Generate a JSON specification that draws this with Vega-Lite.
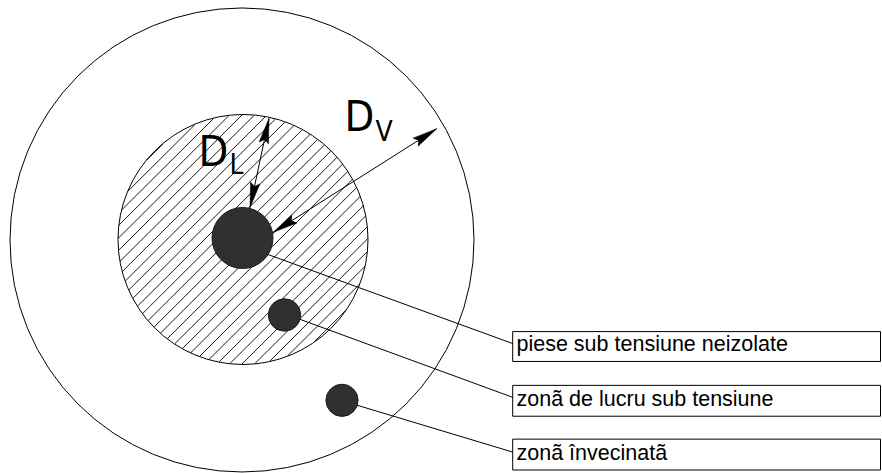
{
  "$schema": "https://vega.github.io/schema/vega-lite/v6.json",
  "width": 882,
  "height": 473,
  "autosize": {"type": "fit", "contains": "padding"},
  "padding": 0,
  "background": "white",
  "config": {"view": {"stroke": null}},
  "datasets": {
    "hatch": [
      {"x": 146.72, "y": 160.78, "x2": 163.28, "y2": 144.22},
      {"x": 127.64, "y": 192.36, "x2": 194.86, "y2": 125.14},
      {"x": 121.54, "y": 210.96, "x2": 213.46, "y2": 119.04},
      {"x": 118.82, "y": 226.18, "x2": 228.68, "y2": 116.32},
      {"x": 118.0, "y": 239.5, "x2": 242.0, "y2": 115.5},
      {"x": 118.49, "y": 251.51, "x2": 254.01, "y2": 115.99},
      {"x": 119.96, "y": 262.54, "x2": 265.04, "y2": 117.46},
      {"x": 122.24, "y": 272.76, "x2": 275.26, "y2": 119.74},
      {"x": 125.2, "y": 282.3, "x2": 284.8, "y2": 122.7},
      {"x": 128.76, "y": 291.24, "x2": 293.74, "y2": 126.26},
      {"x": 132.87, "y": 299.63, "x2": 302.13, "y2": 130.37},
      {"x": 137.48, "y": 307.52, "x2": 310.02, "y2": 134.98},
      {"x": 142.57, "y": 314.93, "x2": 317.43, "y2": 140.07},
      {"x": 148.12, "y": 321.88, "x2": 324.38, "y2": 145.62},
      {"x": 154.11, "y": 328.39, "x2": 330.89, "y2": 151.61},
      {"x": 160.55, "y": 334.45, "x2": 336.95, "y2": 158.05},
      {"x": 167.43, "y": 340.07, "x2": 342.57, "y2": 164.93},
      {"x": 174.77, "y": 345.23, "x2": 347.73, "y2": 172.27},
      {"x": 182.57, "y": 349.93, "x2": 352.43, "y2": 180.07},
      {"x": 190.88, "y": 354.12, "x2": 356.62, "y2": 188.38},
      {"x": 199.73, "y": 357.77, "x2": 360.27, "y2": 197.23},
      {"x": 209.17, "y": 360.83, "x2": 363.33, "y2": 206.67},
      {"x": 219.27, "y": 363.23, "x2": 365.73, "y2": 216.77},
      {"x": 230.16, "y": 364.84, "x2": 367.34, "y2": 227.66},
      {"x": 242.0, "y": 365.5, "x2": 368.0, "y2": 239.5},
      {"x": 255.09, "y": 364.91, "x2": 367.41, "y2": 252.59},
      {"x": 269.94, "y": 362.56, "x2": 365.06, "y2": 267.44},
      {"x": 287.81, "y": 357.19, "x2": 359.69, "y2": 285.31},
      {"x": 314.4, "y": 343.1, "x2": 345.6, "y2": 311.9}
    ],
    "rings": [
      {"name": "zonã de lucru", "x": 243, "y": 240.5, "r": 125},
      {"name": "zonã învecinatã", "x": 242, "y": 241, "r": 232}
    ],
    "leaders": [
      {"x": 250, "y": 249, "x2": 512.7, "y2": 345},
      {"x": 290, "y": 317, "x2": 512.7, "y2": 399},
      {"x": 345, "y": 403.3, "x2": 512.7, "y2": 454}
    ],
    "dots": [
      {"name": "piesã 1", "x": 242.5, "y": 239, "r": 30.5},
      {"name": "piesã 2", "x": 284.5, "y": 316.3, "r": 16.2},
      {"name": "piesã 3", "x": 342, "y": 402, "r": 16.1}
    ],
    "shafts": [
      {"name": "DL", "x": 250, "y": 208.3, "x2": 269, "y2": 119},
      {"name": "DV", "x": 273.3, "y": 233.3, "x2": 436.7, "y2": 129.3}
    ],
    "heads": [
      {"name": "DL sus", "x": 266.4, "y": 131.2, "angle": 12},
      {"name": "DL jos", "x": 252.6, "y": 196.1, "angle": 192},
      {"name": "DV ext", "x": 426.2, "y": 136, "angle": 57.5},
      {"name": "DV int", "x": 283.8, "y": 226.6, "angle": 237.5}
    ],
    "boxes": [
      {"x": 512.7, "x2": 880.5, "y": 333, "y2": 363},
      {"x": 512.7, "x2": 880.5, "y": 387, "y2": 418},
      {"x": 512.7, "x2": 880.5, "y": 441, "y2": 472}
    ],
    "labels": [
      {"text": "piese sub tensiune neizolate", "x": 516.5, "y": 352.3},
      {"text": "zonã de lucru sub tensiune", "x": 516.5, "y": 407.3},
      {"text": "zonã învecinatã", "x": 516.5, "y": 461.7}
    ],
    "bigD": [
      {"text": "D", "x": 198.5, "y": 166.7},
      {"text": "D", "x": 344.5, "y": 131.7}
    ],
    "subs": [
      {"text": "L", "x": 229.5, "y": 175},
      {"text": "V", "x": 375.5, "y": 141.7}
    ]
  },
  "layer": [
    {
      "data": {"name": "hatch"},
      "mark": {"type": "rule", "color": "black", "strokeWidth": 0.9},
      "encoding": {
        "x": {"field": "x", "type": "quantitative", "scale": {"domain": [0, 882], "nice": false, "zero": false}, "axis": null},
        "y": {"field": "y", "type": "quantitative", "scale": {"domain": [0, 473], "nice": false, "zero": false, "reverse": true}, "axis": null},
        "x2": {"field": "x2"},
        "y2": {"field": "y2"}
      }
    },
    {
      "data": {"name": "rings"},
      "mark": {"type": "point", "shape": "circle", "filled": false, "stroke": "black", "strokeWidth": 1, "opacity": 1},
      "encoding": {
        "x": {"field": "x", "type": "quantitative"},
        "y": {"field": "y", "type": "quantitative"},
        "size": {"field": "r", "type": "quantitative", "scale": {"type": "pow", "exponent": 2, "domain": [0, 100], "range": [0, 40000]}, "legend": null}
      }
    },
    {
      "data": {"name": "leaders"},
      "mark": {"type": "rule", "color": "black", "strokeWidth": 1},
      "encoding": {
        "x": {"field": "x", "type": "quantitative"},
        "y": {"field": "y", "type": "quantitative"},
        "x2": {"field": "x2"},
        "y2": {"field": "y2"}
      }
    },
    {
      "data": {"name": "dots"},
      "mark": {"type": "point", "shape": "circle", "filled": true, "fill": "#303030", "stroke": "#1c1c1c", "strokeWidth": 1, "opacity": 1},
      "encoding": {
        "x": {"field": "x", "type": "quantitative"},
        "y": {"field": "y", "type": "quantitative"},
        "size": {"field": "r", "type": "quantitative", "legend": null}
      }
    },
    {
      "data": {"name": "shafts"},
      "mark": {"type": "rule", "color": "black", "strokeWidth": 1},
      "encoding": {
        "x": {"field": "x", "type": "quantitative"},
        "y": {"field": "y", "type": "quantitative"},
        "x2": {"field": "x2"},
        "y2": {"field": "y2"}
      }
    },
    {
      "data": {"name": "heads"},
      "mark": {"type": "point", "shape": "M0,-1L0.38,1L0,0.72L-0.38,1Z", "filled": true, "fill": "black", "stroke": "black", "strokeWidth": 0.5, "opacity": 1, "size": 625},
      "encoding": {
        "x": {"field": "x", "type": "quantitative"},
        "y": {"field": "y", "type": "quantitative"},
        "angle": {"field": "angle", "type": "quantitative", "scale": {"domain": [0, 360], "range": [0, 360]}}
      }
    },
    {
      "data": {"name": "boxes"},
      "mark": {"type": "rect", "fill": null, "fillOpacity": 0, "stroke": "black", "strokeWidth": 1},
      "encoding": {
        "x": {"field": "x", "type": "quantitative"},
        "y": {"field": "y", "type": "quantitative"},
        "x2": {"field": "x2"},
        "y2": {"field": "y2"}
      }
    },
    {
      "data": {"name": "labels"},
      "mark": {"type": "text", "align": "left", "baseline": "alphabetic", "font": "Liberation Sans, Arial, sans-serif", "fontSize": 21.5, "color": "black"},
      "encoding": {
        "x": {"field": "x", "type": "quantitative"},
        "y": {"field": "y", "type": "quantitative"},
        "text": {"field": "text"}
      }
    },
    {
      "data": {"name": "bigD"},
      "mark": {"type": "text", "align": "left", "baseline": "alphabetic", "font": "Liberation Sans Narrow, DejaVu Sans Condensed, Liberation Sans, sans-serif", "fontSize": 43, "color": "black"},
      "encoding": {
        "x": {"field": "x", "type": "quantitative"},
        "y": {"field": "y", "type": "quantitative"},
        "text": {"field": "text"}
      }
    },
    {
      "data": {"name": "subs"},
      "mark": {"type": "text", "align": "left", "baseline": "alphabetic", "font": "Liberation Sans Narrow, DejaVu Sans Condensed, Liberation Sans, sans-serif", "fontSize": 28, "color": "black"},
      "encoding": {
        "x": {"field": "x", "type": "quantitative"},
        "y": {"field": "y", "type": "quantitative"},
        "text": {"field": "text"}
      }
    }
  ]
}
